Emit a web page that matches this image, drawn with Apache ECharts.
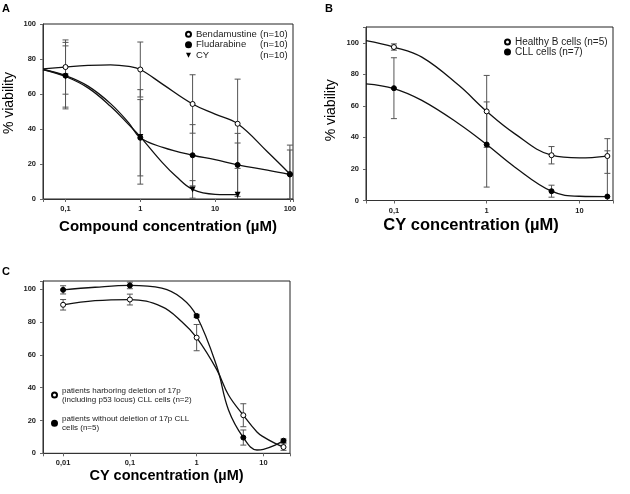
<!DOCTYPE html>
<html>
<head>
<meta charset="utf-8">
<script src="https://cdn.jsdelivr.net/npm/echarts@6/dist/echarts.min.js"></script>
<style>
  html, body { margin: 0; padding: 0; background: #fff; }
  #main { width: 630px; height: 494px; }
</style>
</head>
<body>
<div id="main"></div>
<script>
// panel A: compound comparison, mean +/- sd
var concA = [0.1, 1, 5, 20, 100];
var bendaMean = [75.4, 74, 54.3, 43, 14.3];
var bendaErr = [15.5, 15.7, 16.7, 25.5, 16.5];
var fludaMean = [70.5, 35, 25, 19.5, 14];
var fludaErr = [19, 21.8, 17.5, 18, 14];
var concCyA = [0.1, 1, 5, 20];
var cyMean = [70, 35.5, 5.5, 2.5];
var cyErr = [17.5, 27, 5, 29.5];
var nA = [10, 10, 10];
var namesA = ['Bendamustine', 'Fludarabine', 'CY'];

// fitted curves panel A
var fitXA = [0.05, 0.1, 0.2, 0.4, 0.7, 1, 2, 5, 10, 20, 50, 100];
var bendaFit = [74.3, 75.4, 76.3, 76.7, 75.8, 74, 65.5, 54.3, 48.5, 43, 27, 14.3];
var fludaFit = [74, 70.5, 64.5, 54.5, 43.5, 35, 29.5, 25, 22.5, 19.5, 16.5, 14];
var fitXCyA = [0.05, 0.1, 0.2, 0.4, 0.7, 1, 2, 3, 5, 10, 20];
var cyFitA = [74, 70, 63.5, 53, 42.5, 35.5, 20.5, 13, 5.5, 2.7, 2.5];

// panel B: healthy B vs CLL cells
var concB = [0.1, 1, 5, 20];
var healthyMean = [97.3, 56.5, 28.7, 28.2];
var healthyErr = [2, 22.8, 5.5, 11];
var cllMean = [71.2, 35.5, 5.9, 2.5];
var cllErr = [19.3, 27, 3.8, 29];
var namesB = ['Healthy B cells (n=5)', 'CLL cells (n=7)'];
var fitXB = [0.05, 0.1, 0.2, 0.5, 1, 2, 5, 10, 20];
var healthyFit = [101.4, 97.3, 90.9, 73, 56.5, 42.4, 28.7, 27, 28.2];
var cllFit = [74, 71, 63.5, 48.7, 35.5, 21.3, 5.9, 2.7, 2.5];

// panel C: 17p deletion
var concC = [0.01, 0.1, 1, 5, 20];
var delMean = [90.5, 93.7, 70.5, 23.2, 3.8];
var delErr = [3.2, 3.3, 8, 7, 2];
var noDelMean = [99.6, 102.3, 83.7, 9.6, 7.7];
var noDelErr = [2.5, 2, 1, 4.6, 1];
var namesC = ['patients harboring deletion of 17p\n(including p53 locus) CLL cells (n=2)',
              'patients without deletion of 17p CLL\ncells (n=5)'];
var fitXC = [0.01, 0.03, 0.1, 0.3, 0.6, 1, 2, 3, 5, 8, 10, 15, 20];
var delFit = [90.5, 93, 93.7, 89.4, 80.2, 70.5, 51, 35.5, 23.2, 13, 10, 6, 3.8];
var noDelFit = [99.6, 101.2, 102.3, 100.6, 94.5, 83.7, 53, 26.4, 9.6, 2, 2.4, 5, 7.7];

var FONT = 'Liberation Sans, Arial, sans-serif';
var DOWN_TRI = 'path://M0,0 L10,0 L5,10 Z';

function fmtNum(v) {
  var l = Math.log(v) / Math.LN10;
  if (Math.abs(l - Math.round(l)) > 1e-6) return '';
  return String(parseFloat(v.toPrecision(6))).replace('.', ',');
}

function zip(xs, a, b) {
  return xs.map(function (x, i) { return b ? [x, a[i], b[i]] : [x, a[i]]; });
}

function errBar(params, api) {
  var x = api.value(0), m = api.value(1), e = api.value(2);
  var top = api.coord([x, m + e]);
  var bot = api.coord([x, m - e]);
  var w = 3;
  var st = { stroke: '#555', lineWidth: 1 };
  return {
    type: 'group',
    children: [
      { type: 'line', shape: { x1: top[0], y1: top[1], x2: bot[0], y2: bot[1] }, style: st },
      { type: 'line', shape: { x1: top[0] - w, y1: top[1], x2: top[0] + w, y2: top[1] }, style: st },
      { type: 'line', shape: { x1: bot[0] - w, y1: bot[1], x2: bot[0] + w, y2: bot[1] }, style: st }
    ]
  };
}

function xAx(idx, min, max, name, gap, pad, size) {
  return {
    type: 'log', logBase: 10, gridIndex: idx, min: min, max: max,
    name: name, nameLocation: 'middle', nameGap: gap,
    nameTextStyle: { fontFamily: FONT, fontWeight: 'bold', fontSize: size, color: '#000', padding: pad },
    axisLine: { lineStyle: { color: '#333' } },
    axisTick: { inside: false, length: 3, lineStyle: { color: '#666' } },
    minorTick: { show: false },
    axisLabel: { formatter: fmtNum, margin: 6, fontFamily: FONT, fontWeight: 'bold', fontSize: 7.5, color: '#222' },
    splitLine: { show: false }
  };
}

function yAx(idx, max, name, gap, pad) {
  return {
    type: 'value', gridIndex: idx, min: 0, max: max, interval: 20,
    name: name, nameLocation: 'middle', nameGap: gap,
    nameTextStyle: { fontFamily: FONT, fontSize: 14, color: '#000', padding: pad },
    axisLine: { show: true, lineStyle: { color: '#333' } },
    axisTick: { show: true, length: 3, lineStyle: { color: '#666' } },
    axisLabel: {
      margin: 7, fontFamily: FONT, fontWeight: 'bold', fontSize: 7.5, color: '#222',
      formatter: function (v) { return v % 20 === 0 ? v : ''; }
    },
    splitLine: { show: false }
  };
}

function pts(name, idx, data, symbol, fill) {
  var tri = symbol === DOWN_TRI;
  return {
    name: name, type: 'scatter', xAxisIndex: idx, yAxisIndex: idx, data: data,
    symbol: symbol, symbolSize: tri ? [6, 6] : 5,
    itemStyle: { color: fill, borderColor: '#000', borderWidth: tri ? 0 : 1, opacity: 1 },
    z: 5, silent: true
  };
}

function fit(name, idx, data) {
  return {
    name: name, type: 'line', xAxisIndex: idx, yAxisIndex: idx, data: data,
    smooth: 0.4, showSymbol: false, silent: true,
    lineStyle: { color: '#111', width: 1.3 }, z: 3
  };
}

function err(idx, data) {
  return { type: 'custom', xAxisIndex: idx, yAxisIndex: idx, data: data, renderItem: errBar, clip: true, z: 2, silent: true };
}

var chart = echarts.init(document.getElementById('main'), null, { renderer: 'canvas' });

chart.setOption({
  backgroundColor: '#fff',
  animation: false,
  textStyle: { fontFamily: FONT },
  grid: [
    { left: 43, top: 24, width: 250, height: 175, show: true, borderColor: '#222', borderWidth: 1 },
    { left: 366, top: 27, width: 247, height: 173.5, show: true, borderColor: '#222', borderWidth: 1 },
    { left: 43, top: 281, width: 247, height: 172.3, show: true, borderColor: '#222', borderWidth: 1 }
  ],
  xAxis: [
    xAx(0, 0.05, 110, 'Compound concentration (µM)', 20, [0, 0, 0, 0], 15),
    xAx(1, 0.05, 23, 'CY concentration (µM)', 16, [0, 37, 0, 0], 16.5),
    xAx(2, 0.005, 25, 'CY concentration (µM)', 14, [0, 0, 0, 0], 14.5)
  ],
  yAxis: [
    yAx(0, 100, '% viability', 27, [0, 0, 0, 17]),
    yAx(1, 110, '% viability', 28, [0, 0, 0, 7]),
    yAx(2, 105, '', 20, [0, 0, 0, 0])
  ],
  legend: [
    {
      data: namesA.map(function (n, i) { return i === 2 ? { name: n, icon: DOWN_TRI } : n; }),
      orient: 'vertical', left: 185, top: 29, padding: 0,
      itemWidth: 5, itemHeight: 5, itemGap: 0,
      selectedMode: false,
      formatter: function (name) {
        return '{a|' + name + '}{b|(n=' + nA[namesA.indexOf(name)] + ')}';
      },
      textStyle: {
        fontFamily: FONT, fontSize: 9.5, color: '#222', lineHeight: 10.5,
        rich: {
          a: { fontFamily: FONT, fontSize: 9.5, width: 64, lineHeight: 10.5, color: '#222' },
          b: { fontFamily: FONT, fontSize: 9.5, lineHeight: 10.5, color: '#222' }
        }
      }
    },
    {
      data: namesB, orient: 'vertical', left: 504, top: 37, padding: 0,
      itemWidth: 5, itemHeight: 5, itemGap: 0,
      selectedMode: false,
      textStyle: { fontFamily: FONT, fontSize: 10, color: '#222', lineHeight: 10 }
    },
    {
      data: namesC, orient: 'vertical', left: 51, top: 381, padding: 0,
      itemWidth: 5, itemHeight: 5, itemGap: 0.4,
      selectedMode: false,
      textStyle: { fontFamily: FONT, fontSize: 8, color: '#222', lineHeight: 9.3, padding: [9.3, 0, 0, 0] }
    }
  ],
  graphic: [
    { type: 'text', left: 2, top: 3, style: { text: 'A', font: 'bold 11px ' + FONT, fill: '#000' } },
    { type: 'text', left: 325, top: 3, style: { text: 'B', font: 'bold 11px ' + FONT, fill: '#000' } },
    { type: 'text', left: 2, top: 266, style: { text: 'C', font: 'bold 11px ' + FONT, fill: '#000' } }
  ],
  series: [
    err(0, zip(concA, bendaMean, bendaErr)),
    err(0, zip(concA, fludaMean, fludaErr)),
    err(0, zip(concCyA, cyMean, cyErr)),
    fit('Bendamustine fit', 0, zip(fitXA, bendaFit)),
    fit('Fludarabine fit', 0, zip(fitXA, fludaFit)),
    fit('CY fit', 0, zip(fitXCyA, cyFitA)),
    pts(namesA[0], 0, zip(concA, bendaMean), 'circle', '#fff'),
    pts(namesA[1], 0, zip(concA, fludaMean), 'circle', '#000'),
    pts(namesA[2], 0, zip(concCyA, cyMean), DOWN_TRI, '#000'),

    err(1, zip(concB, healthyMean, healthyErr)),
    err(1, zip(concB, cllMean, cllErr)),
    fit('Healthy fit', 1, zip(fitXB, healthyFit)),
    fit('CLL fit', 1, zip(fitXB, cllFit)),
    pts(namesB[0], 1, zip(concB, healthyMean), 'circle', '#fff'),
    pts(namesB[1], 1, zip(concB, cllMean), 'circle', '#000'),

    err(2, zip(concC, delMean, delErr)),
    err(2, zip(concC, noDelMean, noDelErr)),
    fit('del fit', 2, zip(fitXC, delFit)),
    fit('no del fit', 2, zip(fitXC, noDelFit)),
    pts(namesC[0], 2, zip(concC, delMean), 'circle', '#fff'),
    pts(namesC[1], 2, zip(concC, noDelMean), 'circle', '#000')
  ]
});
</script>
</body>
</html>
